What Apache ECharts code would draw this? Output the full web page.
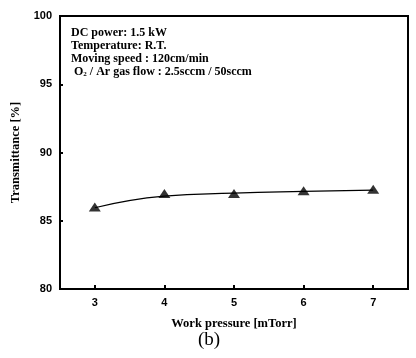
<!DOCTYPE html>
<html>
<head>
<meta charset="utf-8">
<script src="https://cdn.jsdelivr.net/npm/echarts@6/dist/echarts.min.js"></script>
<style>
  html, body {margin: 0; padding: 0; background: #fff;}
  #main {width: 416px; height: 358px;}
</style>
</head>
<body>
<div id="main"></div>
<script>
// work pressure [mTorr]
const pressure = [3, 4, 5, 6, 7];
// measured transmittance [%]
const transmittance = [86.0, 87.0, 87.0, 87.2, 87.3];
// fitted curve through the points
const fitCurve = [85.95, 86.8, 87.02, 87.15, 87.25];
const yTicks = [80, 85, 90, 95, 100];

const serif = '"Liberation Serif", "DejaVu Serif", serif';
const sans = '"Liberation Sans", Arial, sans-serif';
const noteFont = 'bold 12px ' + serif;

const chart = echarts.init(document.getElementById('main'));
chart.setOption({
  animation: false,
  grid: {left: 60, right: 8, top: 16, bottom: 69},
  xAxis: {
    type: 'value',
    min: 2.5, max: 7.5, interval: 1,
    axisLine: {lineStyle: {color: '#000', width: 2}},
    axisTick: {inside: true, length: 4, lineStyle: {color: '#000', width: 2}, customValues: pressure},
    splitLine: {show: false},
    axisLabel: {color: '#000', fontFamily: sans, fontWeight: 'bold', fontSize: 11, margin: 8, customValues: pressure},
    name: 'Work pressure [mTorr]',
    nameLocation: 'middle',
    nameGap: 28,
    nameTextStyle: {color: '#000', fontFamily: serif, fontWeight: 'bold', fontSize: 12.5}
  },
  yAxis: {
    type: 'value',
    min: 80, max: 100, interval: 5,
    axisLine: {lineStyle: {color: '#000', width: 2}},
    axisTick: {inside: true, length: 3, lineStyle: {color: '#000', width: 2}},
    splitLine: {show: false},
    axisLabel: {color: '#000', fontFamily: sans, fontWeight: 'bold', fontSize: 11, margin: 8,
      customValues: yTicks},
    name: 'Transmittance [%]',
    nameLocation: 'middle',
    nameGap: 32,
    nameTextStyle: {color: '#000', fontFamily: serif, fontWeight: 'bold', fontSize: 12.5}
  },
  graphic: [
    {type: 'rect', shape: {x: 60, y: 16, width: 348, height: 273}, style: {fill: 'none', stroke: '#000', lineWidth: 2}, silent: true},
    {type: 'text', left: 71, top: 27, style: {text: 'DC power: 1.5 kW', font: noteFont, fill: '#000'}},
    {type: 'text', left: 71, top: 40, style: {text: 'Temperature: R.T.', font: noteFont, fill: '#000'}},
    {type: 'text', left: 71, top: 53, style: {text: 'Moving speed : 120cm/min', font: noteFont, fill: '#000'}},
    {type: 'text', left: 71, top: 66, style: {
      text: '{n| O}{s|2}{n| / Ar gas flow : 2.5sccm / 50sccm}',
      rich: {
        n: {font: noteFont, fill: '#000', verticalAlign: 'bottom'},
        s: {font: 'bold 7px ' + serif, fill: '#000', padding: [7, 0, 0, 0], verticalAlign: 'bottom'}
      }
    }},
    {type: 'text', left: 198, top: 331, style: {text: '(b)', font: '19px ' + serif, fill: '#000'}}
  ],
  series: [
    {
      type: 'line',
      data: pressure.map((p, i) => [p, fitCurve[i]]),
      smooth: 0.5,
      showSymbol: false,
      lineStyle: {color: '#000', width: 1.2}
    },
    {
      type: 'scatter',
      data: pressure.map((p, i) => [p, transmittance[i]]),
      symbol: 'triangle',
      symbolSize: [12, 9],
      itemStyle: {color: '#000'}
    }
  ]
});
</script>
</body>
</html>
